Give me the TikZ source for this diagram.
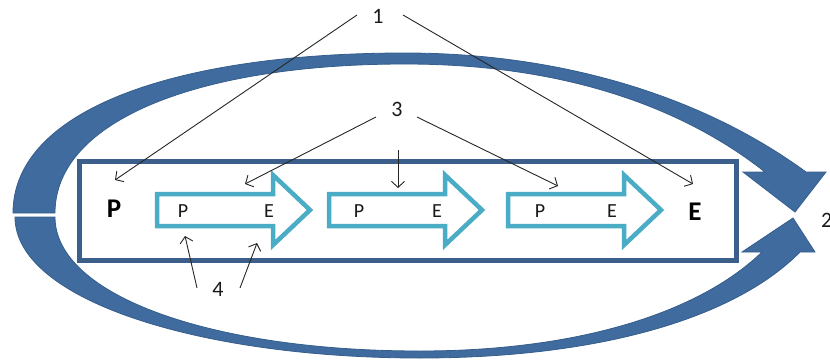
\documentclass[tikz,border=0pt]{standalone}
\usepackage{fontspec}
\setmainfont{Carlito}
\usetikzlibrary{arrows.meta}
\definecolor{bandblue}{HTML}{3F6B9E}
\definecolor{bandedge}{HTML}{365E8C}
\definecolor{rectblue}{HTML}{3B5F8A}
\definecolor{tealarr}{HTML}{4BACC6}
\tikzset{
  band/.style={fill=bandblue, draw=bandedge, line width=0.8pt, line join=miter},
  blockarr/.pic={\draw[tealarr, line width=4.5pt, line join=miter]
     (0,-16) -- (116,-16) -- (116,-35) -- (153,0) -- (116,35) -- (116,16) -- (0,16) -- cycle;},
  small/.style={font=\fontsize{20}{22}\selectfont, inner sep=0pt, text=black!90},
  big/.style={font=\fontsize{27}{30}\selectfont\bfseries, inner sep=0pt},
  num/.style={font=\fontsize{22}{24}\selectfont, inner sep=0pt, text=black!90},
  conn/.style={draw=black!85, line width=0.9pt, -{Straight Barb[length=6pt,width=13pt]}}
}
\begin{document}
\begin{tikzpicture}[x=1pt,y=-1pt]
\useasboundingbox (0,0) rectangle (830,359);
% upper curved arrow
\path[band] (13,213) .. controls (13,110) and (175,53) .. (405,53)
  .. controls (565,53) and (705,98) .. (806,172) -- (826,172) -- (795,212) -- (743,172) -- (765,172)
  .. controls (680,105) and (560,64) .. (405,64)
  .. controls (200,64) and (55,120) .. (55,213) -- cycle;
% lower curved arrow
\path[band] (15,217) .. controls (15,300) and (200,358) .. (420,358)
  .. controls (600,358) and (735,318) .. (800,252) -- (815,252) -- (793,218) -- (742,252) -- (762,252)
  .. controls (700,312) and (580,351) .. (420,351)
  .. controls (210,351) and (55,295) .. (55,217) -- cycle;
% frame
\node (frame) [draw=rectblue, line width=5pt, fill=white, minimum width=656.5pt, minimum height=99pt, inner sep=0pt] at (407.75,210.5) {};
% block arrows
\pic at (157,210) {blockarr};
\pic at (329,210) {blockarr};
\pic at (508,210) {blockarr};
% letters
\node[big] (P) at (114,209) {P};
\node[big] (E) at (695,212) {E};
\node[small] (p1) at (183,211) {P};
\node[small] (e1) at (269,211) {E};
\node[small] (p2) at (359,211) {P};
\node[small] (e2) at (437,211) {E};
\node[small] (p3) at (540,211) {P};
\node[small] (e3) at (612,211) {E};
% numbers
\node[num] (n1) at (378,16) {1};
\node[num] (n3) at (397,109) {3};
\node[num] (n4) at (218,289) {4};
\node[num, anchor=west] (n2) at (821,220) {2};
% coordinates for connector ends
\coordinate (a1s) at (357,15);  \coordinate (a1e) at (115,180);
\coordinate (a2s) at (403,15);  \coordinate (a2e) at (693,184);
\coordinate (b1s) at (376,117); \coordinate (b1e) at (245,184);
\coordinate (b2s) at (398,150); \coordinate (b2e) at (398,188);
\coordinate (b3s) at (417,117); \coordinate (b3e) at (558,186);
\coordinate (c1s) at (197,288); \coordinate (c1e) at (185,236);
\coordinate (c2s) at (240,288); \coordinate (c2e) at (257,243);
\draw[conn] (a1s) -- (a1e);
\draw[conn] (a2s) -- (a2e);
\draw[conn] (b1s) -- (b1e);
\draw[conn] (b2s) -- (b2e);
\draw[conn] (b3s) -- (b3e);
\draw[conn] (c1s) -- (c1e);
\draw[conn] (c2s) -- (c2e);
\end{tikzpicture}
\end{document}
